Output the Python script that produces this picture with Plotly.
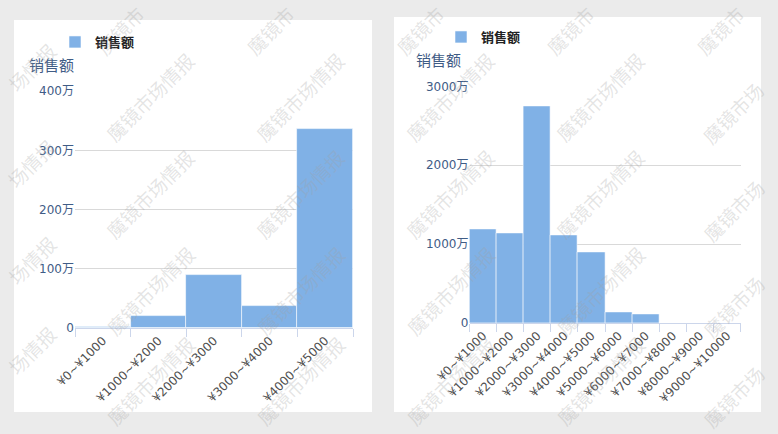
import plotly.graph_objects as go

# ---------------- data ----------------
series_name = "销售额"

left_categories = ["¥0~¥1000", "¥1000~¥2000", "¥2000~¥3000", "¥3000~¥4000", "¥4000~¥5000"]
left_values = [15000, 197000, 895000, 377000, 3360000]
left_tickvals = [0, 1000000, 2000000, 3000000, 4000000]
left_ticktext = ["0", "100万", "200万", "300万", "400万"]

right_categories = ["¥0~¥1000", "¥1000~¥2000", "¥2000~¥3000", "¥3000~¥4000", "¥4000~¥5000",
                    "¥5000~¥6000", "¥6000~¥7000", "¥7000~¥8000", "¥8000~¥9000", "¥9000~¥10000"]
right_values = [11880000, 11410000, 27500000, 11150000, 8960000, 1310000, 1100000, 0, 0, 0]
right_tickvals = [0, 10000000, 20000000, 30000000]
right_ticktext = ["0", "1000万", "2000万", "3000万"]

watermark_text = "魔镜市场情报"
watermark_head = "魔镜市"
watermark_head4 = "魔镜市场"
watermark_tail = "场情报"

# ---------------- layout helpers ----------------
W, H = 778, 434
def px(x):
    return x / W
def py(y):
    return 1 - y / H

BAR_COLOR = "#80b1e6"
FONT = "DejaVu Sans, Noto Sans CJK SC, sans-serif"
YLAB = "#3f5c86"

fig = go.Figure()
fig.add_trace(go.Bar(
    x=left_categories, y=left_values, name=series_name,
    xaxis="x", yaxis="y", legend="legend",
    marker=dict(color=BAR_COLOR, line=dict(color="rgba(255,255,255,0.7)", width=0.8)),
    hoverinfo="x+y",
))
fig.add_trace(go.Bar(
    x=right_categories, y=right_values, name=series_name,
    xaxis="x2", yaxis="y2", legend="legend2",
    marker=dict(color=BAR_COLOR, line=dict(color="rgba(255,255,255,0.7)", width=0.8)),
    hoverinfo="x+y",
))

xcommon = dict(
    type="category", showgrid=False, zeroline=False, automargin=False,
    showline=True, linecolor="#ccd6eb", linewidth=1,
    ticks="outside", tickson="boundaries", ticklen=8, tickcolor="#ccd6eb",
    tickangle=-45, tickfont=dict(family=FONT, size=12, color="#505050"),
    fixedrange=True,
)
ycommon = dict(
    showgrid=True, gridcolor="#d9d9d9", gridwidth=1, zeroline=False, automargin=False,
    showline=False, ticks="", tickfont=dict(family=FONT, size=12, color=YLAB),
    fixedrange=True,
)

shapes = [
    dict(type="rect", xref="paper", yref="paper", x0=px(14), x1=px(372), y0=py(412), y1=py(20),
         fillcolor="white", line=dict(width=0), layer="below"),
    dict(type="rect", xref="paper", yref="paper", x0=px(394), x1=px(761), y0=py(412), y1=py(17),
         fillcolor="white", line=dict(width=0), layer="below"),
]

annotations = [
    dict(xref="paper", yref="paper", x=px(27), y=py(66), xanchor="left", yanchor="middle",
         text=series_name, showarrow=False, font=dict(family=FONT, size=15, color=YLAB)),
    dict(xref="paper", yref="paper", x=px(414), y=py(61), xanchor="left", yanchor="middle",
         text=series_name, showarrow=False, font=dict(family=FONT, size=15, color=YLAB)),
]

WM_FONT = dict(family="Noto Sans CJK SC", size=19, color="rgba(160,160,160,0.28)")
def wm(text, cx, cy):
    annotations.append(dict(
        xref="paper", yref="paper", x=px(cx), y=py(cy), xanchor="center", yanchor="middle",
        text=text, showarrow=False, textangle=-45, font=WM_FONT,
    ))

rows = [97, 194, 290, 380]
inner_cols = [150, 300, 450, 600]
for cx in inner_cols:
    for cy in rows:
        wm(watermark_text, cx, cy)
    wm(watermark_head, cx - 30, 31)
for cy in rows:
    wm(watermark_head4, 733, cy + 16)
wm(watermark_head, 720, 31)
for cy in rows:
    wm(watermark_tail, 31, cy - 30)

legend_common = dict(
    xanchor="left", yanchor="middle", bgcolor="rgba(0,0,0,0)",
    font=dict(family=FONT, size=13, color="#222222", weight="bold"), orientation="h",
)

fig.update_layout(
    width=W, height=H, margin=dict(l=0, r=0, t=0, b=0, autoexpand=False),
    paper_bgcolor="#ebebeb", plot_bgcolor="rgba(0,0,0,0)",
    bargap=0, showlegend=True,
    xaxis=dict(domain=[px(75), px(353)], anchor="y", **xcommon),
    yaxis=dict(domain=[py(328), py(91)], anchor="x", range=[0, 4002000],
               tickvals=left_tickvals, ticktext=left_ticktext, **ycommon),
    xaxis2=dict(domain=[px(469.5), px(740.7)], anchor="y2", **xcommon),
    yaxis2=dict(domain=[py(323), py(86.3)], anchor="x2", range=[0, 30015000],
                tickvals=right_tickvals, ticktext=right_ticktext, **ycommon),
    legend=dict(x=px(55), y=py(42), **legend_common),
    legend2=dict(x=px(441), y=py(37), **legend_common),
    shapes=shapes,
    annotations=annotations,
    font=dict(family=FONT),
)

fig.write_html(
    "out.html",
    config={"displayModeBar": False},
    post_script="document.body.style.margin='0px'; document.body.style.overflow='hidden';",
)
